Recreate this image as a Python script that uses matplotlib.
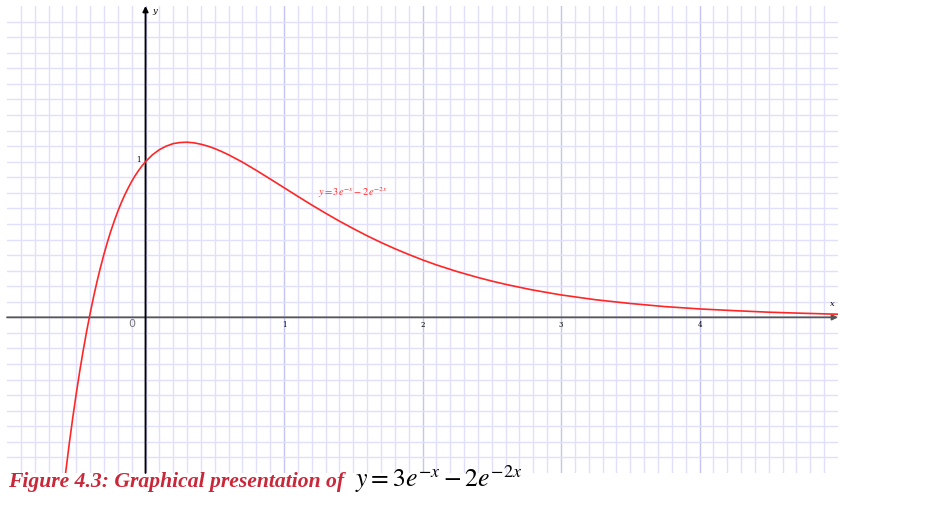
import numpy as np
from matplotlib import pyplot as plt

# points (x, y in axis units)
x_pts = [-0.58, -0.55, -0.525, -0.5, -0.475, -0.45, -0.425, -0.4, -0.375, -0.35, -0.325,
         -0.3, -0.275, -0.25, -0.225, -0.2, -0.175, -0.15, -0.125, -0.1, -0.075, -0.05, -0.025,
         0.0, 0.05, 0.1, 0.15, 0.2, 0.25, 0.3, 0.35, 0.4, 0.45, 0.5, 0.55, 0.6, 0.7, 0.8, 0.9,
         1.0, 1.1, 1.2, 1.3, 1.4, 1.5, 1.6, 1.7, 1.8, 1.9, 2.0, 2.1, 2.25, 2.4, 2.5, 2.6,
         2.75, 2.8, 3.0, 3.25, 3.5, 3.75, 4.0, 4.25, 4.5, 4.75, 5.0]
y_pts = [-1.022, -0.808, -0.644, -0.490, -0.347, -0.214, -0.090, 0.024, 0.131, 0.230, 0.321,
         0.405, 0.483, 0.555, 0.620, 0.681, 0.736, 0.786, 0.831, 0.873, 0.910, 0.943, 0.973,
         1.000, 1.044, 1.077, 1.100, 1.116, 1.123, 1.125, 1.121, 1.112, 1.100, 1.084, 1.065,
         1.044, 0.997, 0.944, 0.889, 0.833, 0.777, 0.722, 0.669, 0.618, 0.570, 0.524, 0.481,
         0.441, 0.404, 0.369, 0.337, 0.294, 0.256, 0.233, 0.212, 0.184, 0.175, 0.144, 0.113,
         0.089, 0.069, 0.054, 0.043, 0.033, 0.026, 0.020]

x_ticks = [1, 2, 3, 4]
x_labels = ['1', '2', '3', '4']
curve_label = r'$y=3e^{-x}-2\,e^{-2x}$'
caption = 'Figure 4.3: Graphical presentation of'
caption_eq = r'$y = 3e^{-x} - 2e^{-2x}$'

plt.rcParams['mathtext.fontset'] = 'stix'

fig = plt.figure(figsize=(9.51, 5.09), dpi=100)
ax = fig.add_axes([7/951, 36/509, 831/951, 467/509])
ax.set_xlim(-1, 5)
ax.set_ylim(-1, 2)

# graph paper grid
for gx in np.arange(-9, 50) / 10:
    major = abs(gx - round(gx)) < 1e-9
    ax.axvline(gx, color='#c4c4f4' if major else '#e0e0fc', lw=1.0, zorder=0)
for gy in np.arange(-9, 20) / 10:
    ax.axhline(gy, color='#e0e0fc', lw=1.0, zorder=0)

for s in ax.spines.values():
    s.set_visible(False)
ax.set_xticks([])
ax.set_yticks([])

# axes with arrows
ax.annotate('', xy=(5, 0), xytext=(-1, 0),
            arrowprops=dict(arrowstyle='-|>', color='#555555', lw=1.3,
                            mutation_scale=8, shrinkA=0, shrinkB=0))
ax.annotate('', xy=(0, 2), xytext=(0, -1),
            arrowprops=dict(arrowstyle='-|>', color='black', lw=1.3,
                            mutation_scale=8, shrinkA=0, shrinkB=0))

ax.plot(x_pts, y_pts, color='#ff2626', lw=1.2, zorder=3)

ax.text(0.05, 1.97, 'y', fontsize=6, style='italic', family='DejaVu Serif', va='center')
ax.text(4.96, 0.07, 'x', fontsize=6, style='italic', family='DejaVu Serif', ha='center')
ax.text(-0.1, -0.04, '0', fontsize=8, color='#777777', ha='center', va='center')
for t, lab in zip(x_ticks, x_labels):
    ax.text(t, -0.05, lab, fontsize=5, ha='center', va='center', family='DejaVu Serif')
ax.text(-0.05, 1.01, '1', fontsize=5, ha='center', va='center', family='DejaVu Serif')
ax.text(1.5, 0.8, curve_label, fontsize=7.5, color='#ff3030', ha='center', va='center')

fig.text(8/951, 22/509, caption, fontsize=15.6, color='#c8283a', weight='bold',
         style='italic', family='Liberation Serif', va='baseline')
fig.text(355/951, 22/509, caption_eq, fontsize=18.5, color='black', va='baseline')

fig.savefig('out.png', dpi=100)
